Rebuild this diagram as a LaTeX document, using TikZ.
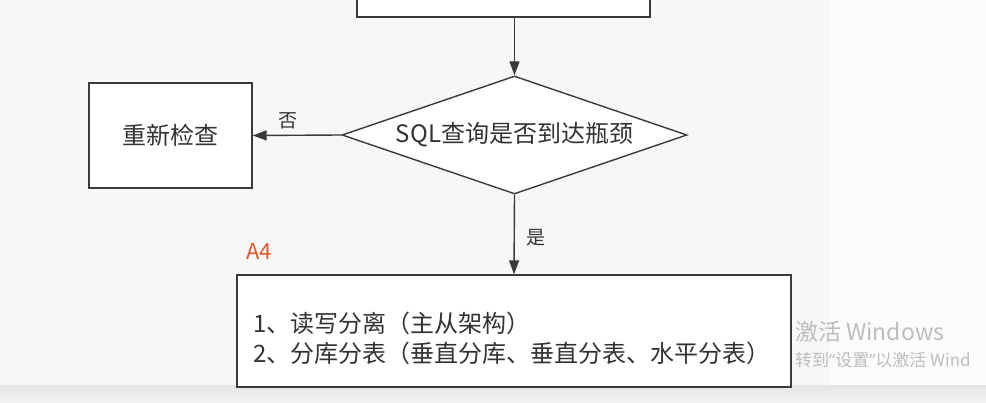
\documentclass[tikz,border=0pt]{standalone}
\usepackage{fontspec}
\setmainfont{Noto Sans CJK SC}
\newfontfamily\latinfont{Noto Sans}
\usepackage{tikz}
\usetikzlibrary{arrows.meta,positioning,shapes.geometric}
\definecolor{linegray}{HTML}{3A3A3A}
\definecolor{textgray}{HTML}{333333}
\definecolor{pagebg}{HTML}{F7F7F7}
\definecolor{markred}{HTML}{E2562B}
\definecolor{winmark}{HTML}{BDBDBD}

\begin{document}
\begin{tikzpicture}[x=1pt,y=-1pt,
  box/.style={draw=linegray,line width=1.4pt,fill=white,inner sep=0pt},
  decision/.style={diamond,draw=linegray,line width=1.4pt,fill=white,inner sep=0pt,aspect=2.9},
  arr/.style={-{Triangle[length=14pt,width=10pt]},draw=linegray,line width=1.4pt},
  txt/.style={text=textgray,font=\fontsize{24}{30}\selectfont},
  lbl/.style={text=textgray,font=\fontsize{19}{20}\selectfont}]
  \useasboundingbox (0,0) rectangle (986,403);
  \clip (0,0) rectangle (986,403);
  % page background and scroll bar
  \fill[pagebg] (0,0) rectangle (830,403);
  \fill[white!60!pagebg] (830,0) rectangle (986,403);
  \shade[top color=black!10,bottom color=black!5] (0,386) rectangle (986,403);
  % flow
  \node[box,minimum width=293pt,minimum height=40pt] (prev) at (503.5,-3) {};
  \node[decision,txt,minimum width=345pt,minimum height=118pt] (bott) at (514.5,135) {SQL查询是否到达瓶颈};
  \node[box,txt,minimum width=163pt,minimum height=105pt] (check) at (170.5,135.5) {重新检查};
  \node[box,minimum width=554pt,minimum height=112pt] (fix) at (514,331) {};
  \node[txt,anchor=west,align=left,inner sep=0pt] (fixtxt) at (253,338) {1、读写分离（主从架构）\\2、分库分表（垂直分库、垂直分表、水平分表）};
  \node[text=markred,font=\fontsize{22}{24}\selectfont] (mark) at (259,251) {A4};
  \draw[arr] (bott.north |- prev.south) -- (bott.north);
  \draw[arr] (bott.west) -- (check.east) node[lbl,pos=0.6,above=2pt] (no) {否};
  \draw[arr] (bott.south) -- (fix.north) node[lbl,midway,right=8pt,yshift=-3pt] (yes) {是};
  % activation watermark
  \node[text=winmark,anchor=west,inner sep=0pt,font=\fontsize{23}{24}\selectfont] (win1) at (795,332) {激活 Windows};
  \node[text=winmark,anchor=west,inner sep=0pt,font=\fontsize{17}{18}\selectfont] (win2) at (795,360) {转到{\latinfont“}设置{\latinfont”}以激活 Wind};
\end{tikzpicture}
\end{document}
